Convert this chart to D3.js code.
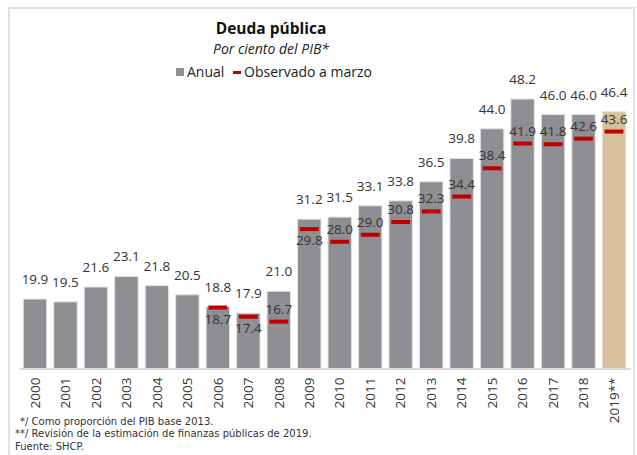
<!DOCTYPE html>
<html>
<head>
<meta charset="utf-8">
<script src="https://cdn.jsdelivr.net/npm/d3@7"></script>
<style>
  body{margin:0;background:#fff;}
  text{font-family:"Open Sans",sans-serif;}
</style>
</head>
<body>
<div id="chart-area"></div>
<script>
//Data
var years = ["2000","2001","2002","2003","2004","2005","2006","2007","2008","2009",
             "2010","2011","2012","2013","2014","2015","2016","2017","2018","2019**"]
var anual = [19.9,19.5,21.6,23.1,21.8,20.5,18.8,17.9,21.0,31.2,
             31.5,33.1,33.8,36.5,39.8,44.0,48.2,46.0,46.0,46.4]
var marzo = [null,null,null,null,null,null,18.7,17.4,16.7,29.8,
             28.0,29.0,30.8,32.3,34.4,38.4,41.9,41.8,42.6,43.6]
var footnotes = ["*/ Como proporción del PIB base 2013.",
                 "**/ Revisión de la estimación de finanzas públicas de 2019.",
                 "Fuente: SHCP."]

var W = 637, H = 455
var svg = d3.select("#chart-area").append("svg")
    .attr("width",W).attr("height",H)

//frame
svg.append("rect")
    .attr("x",9).attr("y",8).attr("width",625).attr("height",460)
    .attr("fill","none").attr("stroke","#e2e2e2").attr("stroke-width",2)

//Title
svg.append("text").attr("x",271).attr("y",34).attr("text-anchor","middle")
    .attr("font-size","15.5px").attr("font-weight","bold").attr("fill","#111")
    .text("Deuda pública")
svg.append("text").attr("x",271).attr("y",54).attr("text-anchor","middle")
    .attr("font-size","14px").attr("font-style","italic").attr("fill","#222")
    .text("Por ciento del PIB*")

//Legend
var leg = svg.append("g")
leg.append("rect").attr("x",176).attr("y",68).attr("width",8).attr("height",8).attr("fill","#8f8e93")
leg.append("text").attr("x",187).attr("y",77).attr("font-size","14px").attr("fill","#222").text("Anual")
leg.append("rect").attr("x",233).attr("y",71).attr("width",8).attr("height",3).attr("fill","#c00000")
leg.append("text").attr("x",244).attr("y",77).attr("font-size","14px").attr("fill","#222").text("Observado a marzo")

//Scales
var x = d3.scaleBand()
    .domain(years)
    .range([19,630])
    .paddingInner(0.23)
    .paddingOuter(0.14)

var y = d3.scaleLinear()
    .domain([10,50])
    .range([369,369 - 40*7.067])

var data = years.map((yr,i)=>{
    return {year:yr,anual:anual[i],marzo:marzo[i]}
})

//Bars
svg.selectAll("rect.bar").data(data).enter()
    .append("rect")
        .attr("class","bar")
        .attr("x",d=>x(d.year))
        .attr("y",d=>y(d.anual))
        .attr("width",x.bandwidth())
        .attr("height",d=>y(10) - y(d.anual))
        .attr("fill",(d,i)=> i == years.length-1 ? "#d5c09a" : "#8f8e93")
        .attr("stroke","#e4e4e6").attr("stroke-width",1)

//Baseline axis
var xAxisGroup = svg.append("g")
    .attr("transform","translate(0,368.5)")
    .call(d3.axisBottom(x).tickSize(0).tickPadding(0))
xAxisGroup.select(".domain").attr("stroke","#d9d9d9").attr("stroke-width",2)
xAxisGroup.selectAll("text")
    .attr("font-size","13.5px")
    .attr("fill","#333")
    .style("font-family","'Open Sans'")
    .attr("text-anchor","end")
    .attr("dy","0.35em")
    .attr("transform","translate(0,9) rotate(-90)")
    .attr("x",0).attr("y",0)

//Marzo markers
var obs = data.filter(d=>d.marzo != null)
var mw = x.bandwidth()*0.8
svg.selectAll("rect.mark").data(obs).enter()
    .append("rect")
        .attr("class","mark")
        .attr("x",d=>x(d.year) + (x.bandwidth()-mw)/2)
        .attr("y",d=>y(d.marzo) - 2)
        .attr("width",mw)
        .attr("height",4)
        .attr("fill","#c00000")

//Value labels
svg.selectAll("text.anual").data(data).enter()
    .append("text")
        .attr("class","anual")
        .attr("x",d=>x(d.year) + x.bandwidth()/2)
        .attr("y",d=>y(d.anual) - 15)
        .attr("text-anchor","middle")
        .attr("font-size","13.5px")
        .attr("fill","#333")
        .text(d=>d.anual.toFixed(1))

svg.selectAll("text.marzo").data(obs).enter()
    .append("text")
        .attr("class","marzo")
        .attr("x",d=>x(d.year) + x.bandwidth()/2)
        .attr("y",d=> (d.anual - d.marzo) < 2 ? y(d.marzo) + 16 : y(d.marzo) - 8)
        .attr("text-anchor","middle")
        .attr("font-size","13.5px")
        .attr("fill","#333")
        .text(d=>d.marzo.toFixed(1))

//Footnotes
svg.selectAll("text.note").data(footnotes).enter()
    .append("text")
        .attr("class","note")
        .attr("x",(d,i)=> i == 0 ? 20 : 15)
        .attr("y",(d,i)=>425 + i*12.3)
        .attr("font-size","10px")
        .style("font-family","'DejaVu Sans'")
        .attr("fill","#333")
        .text(d=>d)
</script>
</body>
</html>
